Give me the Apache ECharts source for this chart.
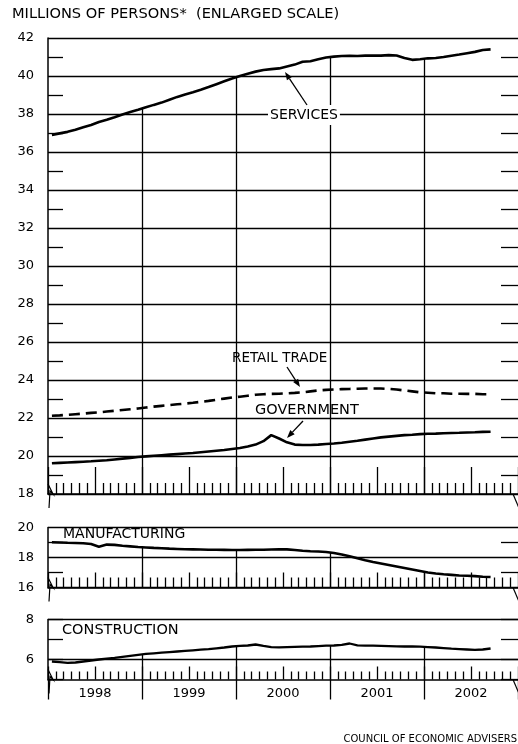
<!DOCTYPE html>
<html><head><meta charset="utf-8">
<script src="https://cdn.jsdelivr.net/npm/echarts@6/dist/echarts.min.js"></script>
<style>html,body{margin:0;padding:0;background:#fff}#c{width:518px;height:744px}</style>
</head><body><div id="c"></div>
<script>
// Monthly data, Jan 1998 .. Sep 2002 (millions of persons)
const years = ['1998', '1999', '2000', '2001', '2002'];
const services = [
  36.90, 36.98, 37.06, 37.17, 37.30, 37.42, 37.58, 37.70, 37.83, 37.97, 38.10, 38.22,
  38.35, 38.48, 38.60, 38.75, 38.90, 39.03, 39.15, 39.28, 39.42, 39.57, 39.72, 39.87,
  40.00, 40.12, 40.23, 40.32, 40.36, 40.40, 40.50, 40.60, 40.75, 40.78, 40.88, 40.97,
  41.02, 41.05, 41.06, 41.05, 41.07, 41.08, 41.07, 41.10, 41.08, 40.95, 40.85, 40.88,
  40.93, 40.95, 41.00, 41.07, 41.13, 41.20, 41.27, 41.37, 41.40
];
const retailTrade = [
  22.12, 22.14, 22.17, 22.20, 22.23, 22.27, 22.30, 22.34, 22.38, 22.42, 22.46, 22.50,
  22.55, 22.60, 22.64, 22.68, 22.72, 22.76, 22.80, 22.85, 22.90, 22.96, 23.02, 23.08,
  23.12, 23.17, 23.22, 23.25, 23.27, 23.28, 23.30, 23.32, 23.35, 23.40, 23.45, 23.48,
  23.50, 23.52, 23.53, 23.54, 23.55, 23.55, 23.55, 23.53, 23.50, 23.45, 23.40, 23.35,
  23.33, 23.30, 23.30, 23.28, 23.28, 23.27, 23.27, 23.25, 23.25
];
const government = [
  19.62, 19.64, 19.66, 19.68, 19.70, 19.72, 19.75, 19.78, 19.82, 19.86, 19.90, 19.95,
  19.98, 20.01, 20.04, 20.07, 20.10, 20.13, 20.16, 20.20, 20.24, 20.28, 20.32, 20.37,
  20.42, 20.50, 20.60, 20.78, 21.10, 20.92, 20.72, 20.60, 20.58, 20.58, 20.60, 20.63,
  20.66, 20.70, 20.75, 20.80, 20.86, 20.92, 20.98, 21.02, 21.06, 21.10, 21.12, 21.15,
  21.17, 21.18, 21.20, 21.21, 21.22, 21.24, 21.25, 21.27, 21.28
];
const manufacturing = [
  19.02, 19.00, 18.98, 18.97, 18.95, 18.90, 18.72, 18.86, 18.84, 18.78, 18.74, 18.70,
  18.67, 18.64, 18.62, 18.59, 18.57, 18.55, 18.54, 18.53, 18.52, 18.52, 18.51, 18.50,
  18.50, 18.51, 18.52, 18.52, 18.53, 18.54, 18.54, 18.50, 18.45, 18.42, 18.40, 18.37,
  18.30, 18.20, 18.08, 17.95, 17.82, 17.70, 17.60, 17.50, 17.40, 17.30, 17.20, 17.10,
  17.00, 16.93, 16.88, 16.84, 16.80, 16.78, 16.76, 16.72, 16.70
];
const construction = [
  5.90, 5.87, 5.83, 5.85, 5.90, 5.95, 6.00, 6.04, 6.08, 6.13, 6.18, 6.23,
  6.28, 6.31, 6.34, 6.37, 6.40, 6.43, 6.46, 6.49, 6.52, 6.56, 6.60, 6.65,
  6.68, 6.70, 6.75, 6.68, 6.62, 6.61, 6.62, 6.63, 6.64, 6.65, 6.67, 6.69,
  6.70, 6.73, 6.80, 6.71, 6.69, 6.69, 6.68, 6.67, 6.66, 6.65, 6.65, 6.64,
  6.62, 6.60, 6.57, 6.54, 6.52, 6.50, 6.48, 6.50, 6.55
];
const topTickLabels = [18, 20, 22, 24, 26, 28, 30, 32, 34, 36, 38, 40, 42];
const manufTickLabels = [16, 18, 20];
const constrTickLabels = [6, 8];
const constrGridValues = [6, 8];

const FONT = 'DejaVu Sans';
const BLACK = '#000';
const pts = arr => arr.map((v, i) => [i + 0.5, v]);
const boundary = (arr, k) => (arr[12 * k - 1] + arr[12 * k]) / 2;
const yearLines = (arr, base) => [1, 2, 3, 4].map(k => [
  { coord: [12 * k, boundary(arr, k)] }, { coord: [12 * k, base] }
]);

function xAx(grid, tall, short) {
  return {
    gridIndex: grid, type: 'value', min: 0, max: 60, interval: 6, position: 'bottom',
    axisLine: { show: true, lineStyle: { color: BLACK, width: 1.5 } },
    axisTick: { show: true, inside: true, length: tall, lineStyle: { color: BLACK, width: 1.3 } },
    minorTick: { show: true, splitNumber: 6, length: short, lineStyle: { color: BLACK, width: 1.3 } },
    axisLabel: { show: false }, splitLine: { show: false }
  };
}
function yLeft(grid, min, max, interval, labels, split, useMinor) {
  return {
    gridIndex: grid, type: 'value', min, max, interval, position: 'left',
    axisLine: { show: true, lineStyle: { color: BLACK, width: 1.5 } },
    axisTick: { show: !useMinor, inside: true, length: 15, lineStyle: { color: BLACK, width: 1.3 } },
    minorTick: { show: useMinor, splitNumber: 2, length: 15, lineStyle: { color: BLACK, width: 1.3 } },
    axisLabel: {
      color: BLACK, fontFamily: FONT, fontSize: 13, margin: 14,
      formatter: v => labels.includes(v) ? String(v) : ''
    },
    splitLine: { show: split, lineStyle: { color: BLACK, width: 1.3 } }
  };
}
function yRight(grid, min, max, interval, useMinor) {
  return {
    gridIndex: grid, type: 'value', min, max, interval, position: 'right',
    axisLine: { show: false },
    axisTick: { show: !useMinor, inside: true, length: 17, lineStyle: { color: BLACK, width: 1.3 } },
    minorTick: { show: useMinor, splitNumber: 2, length: 17, lineStyle: { color: BLACK, width: 1.3 } },
    axisLabel: { show: false }, splitLine: { show: false }
  };
}
const mlBase = {
  symbol: ['none', 'none'], silent: true, label: { show: false },
  lineStyle: { type: 'solid', color: BLACK, width: 1.3 }, emphasis: { disabled: true }
};
function lineSeries(name, data, xi, yi, extra) {
  return Object.assign({
    name, type: 'line', xAxisIndex: xi, yAxisIndex: yi, data: pts(data),
    symbol: 'none', smooth: false, z: 3,
    lineStyle: { color: BLACK, width: 2.6 }
  }, extra || {});
}

function txt(text, left, top, size, extra) {
  return Object.assign({
    text, left, top, padding: 0,
    textStyle: { fontFamily: FONT, fontSize: size, fontWeight: 'normal', color: BLACK }
  }, extra || {});
}

// annotation arrows (decoration)
function arrow(x1, y1, x2, y2) {
  const a = Math.atan2(y2 - y1, x2 - x1), L = 8, W = 3;
  const bx = x2 - L * Math.cos(a), by = y2 - L * Math.sin(a);
  const px = -Math.sin(a) * W, py = Math.cos(a) * W;
  return [
    { type: 'line', shape: { x1, y1, x2: bx, y2: by }, style: { stroke: BLACK, lineWidth: 1.3 }, z: 10 },
    { type: 'polygon', shape: { points: [[x2, y2], [bx + px, by + py], [bx - px, by - py]] }, style: { fill: BLACK }, z: 10 }
  ];
}
function breaks(axisY) {
  return [
    { type: 'polyline', shape: { points: [[48, axisY - 10], [53, axisY], [50, axisY - 3], [49, axisY + 14]] },
      style: { stroke: BLACK, lineWidth: 1.2, fill: null }, z: 10 },
    { type: 'line', shape: { x1: 513, y1: axisY, x2: 519, y2: axisY + 14 },
      style: { stroke: BLACK, lineWidth: 1.2 }, z: 10 }
  ];
}

const chart = echarts.init(document.getElementById('c'), null, { renderer: 'canvas' });
chart.setOption({
  animation: false,
  backgroundColor: '#fff',
  grid: [
    { left: 48, top: 38, width: 475, height: 456 },
    { left: 48, top: 527.5, width: 475, height: 60 },
    { left: 48, top: 619.5, width: 475, height: 60 }
  ],
  xAxis: [
    xAx(0, 27, 11),
    xAx(1, 15, 10),
    xAx(2, 13, 8),
    {
      gridIndex: 2, type: 'category', data: years, position: 'bottom', boundaryGap: true,
      axisLine: { show: false },
      axisTick: { show: true, length: 20, interval: 0, alignWithLabel: false, lineStyle: { color: BLACK, width: 1.3 } },
      axisLabel: { color: BLACK, fontFamily: FONT, fontSize: 13, margin: 8, interval: 0 },
      splitLine: { show: false }
    }
  ],
  yAxis: [
    yLeft(0, 18, 42, 2, topTickLabels, true, true),
    yRight(0, 18, 42, 2, true),
    yLeft(1, 16, 20, 2, manufTickLabels, true, true),
    yRight(1, 16, 20, 2, true),
    yLeft(2, 5, 8, 1, constrTickLabels, false, false),
    yRight(2, 5, 8, 1, false)
  ],
  series: [
    lineSeries('Services', services, 0, 0, {
      markLine: Object.assign({}, mlBase, { data: yearLines(services, 18) })
    }),
    lineSeries('Retail trade', retailTrade, 0, 0, {
      lineStyle: { color: BLACK, width: 2.6, type: [11, 6] }
    }),
    lineSeries('Government', government, 0, 0),
    lineSeries('Manufacturing', manufacturing, 1, 2, {
      markLine: Object.assign({}, mlBase, { data: yearLines(manufacturing, 16) })
    }),
    lineSeries('Construction', construction, 2, 4, {
      lineStyle: { color: BLACK, width: 2.3 },
      markLine: Object.assign({}, mlBase, {
        data: constrGridValues.map(v => ({ yAxis: v })).concat(yearLines(construction, 5))
      })
    })
  ],
  title: [
    txt('MILLIONS OF PERSONS*  (ENLARGED SCALE)', 12, 7, 14.6),
    txt('SERVICES', 268, 105, 14, { padding: [3, 2], backgroundColor: '#fff' }),
    txt('RETAIL TRADE', 232, 351, 13.5),
    txt('GOVERNMENT', 255, 403, 14.5),
    txt('MANUFACTURING', 63, 527, 14),
    txt('CONSTRUCTION', 62, 623, 14.5),
    txt('COUNCIL OF ECONOMIC ADVISERS', null, 734, 10, { right: 1 })
  ],
  graphic: [].concat(
    arrow(307, 105, 285, 72),
    arrow(287, 367, 300, 387),
    arrow(303, 421, 287, 438),
    breaks(494), breaks(587.5), breaks(679.5)
  )
});
</script></body></html>
